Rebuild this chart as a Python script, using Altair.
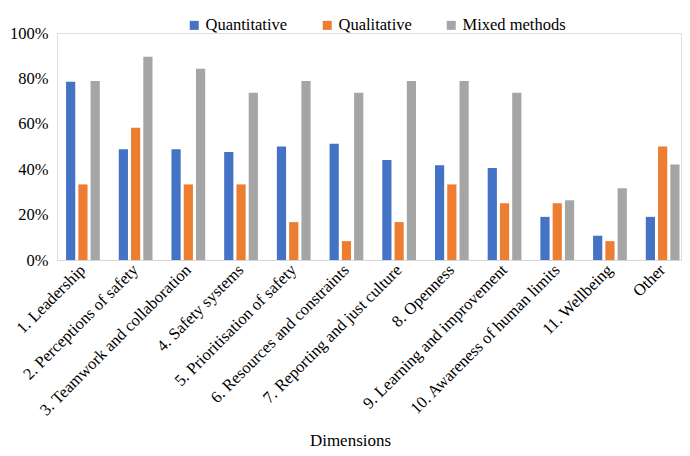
import altair as alt
import pandas as pd

categories = [
    "1. Leadership", "2. Perceptions of safety", "3. Teamwork and collaboration",
    "4. Safety systems", "5. Prioritisation of safety", "6. Resources and constraints",
    "7. Reporting and just culture", "8. Openness", "9. Learning and improvement",
    "10. Awareness of human limits", "11. Wellbeing", "Other",
]
series = ["Quantitative", "Qualitative", "Mixed methods"]
quantitative = [0.785, 0.488, 0.488, 0.476, 0.500, 0.512, 0.440, 0.417, 0.405, 0.190, 0.107, 0.190]
qualitative = [0.333, 0.583, 0.333, 0.333, 0.167, 0.083, 0.167, 0.333, 0.250, 0.250, 0.083, 0.500]
mixed = [0.789, 0.895, 0.842, 0.737, 0.789, 0.737, 0.789, 0.789, 0.737, 0.263, 0.316, 0.421]
colors = ["#4472C4", "#ED7D31", "#A5A5A5"]

rows = []
for s, vals in zip(series, [quantitative, qualitative, mixed]):
    for c, v in zip(categories, vals):
        rows.append({"Dimension": c, "Method": s, "Value": v})
df = pd.DataFrame(rows)

font = "Liberation Serif"

chart = alt.Chart(df).mark_bar().encode(
    x=alt.X("Dimension:N", sort=categories,
            scale=alt.Scale(paddingInner=0.36, paddingOuter=0.1, align=0.86),
            axis=alt.Axis(title="Dimensions", labelAngle=-45, labelAlign="right",
                          labelBaseline="middle", labelPadding=7, ticks=False,
                          domainColor="#D9D9D9", domainWidth=1,
                          labelFont=font, labelFontSize=16.5, labelColor="#000000",
                          labelLimit=400, titleFont=font, titleFontSize=17,
                          titleFontWeight="normal", titleColor="#000000",
                          titleX=293, titleY=185, titleBaseline="alphabetic")),
    xOffset=alt.XOffset("Method:N", sort=series,
                        scale=alt.Scale(paddingInner=0.25, paddingOuter=0)),
    y=alt.Y("Value:Q", scale=alt.Scale(domain=[0, 1]),
            axis=alt.Axis(title=None, format=".0%", values=[0, 0.2, 0.4, 0.6, 0.8, 1.0],
                          grid=False, domain=False, ticks=False, labelPadding=9,
                          labelFont=font, labelFontSize=16.5, labelColor="#000000")),
    color=alt.Color("Method:N", sort=series,
                    scale=alt.Scale(domain=series, range=colors),
                    legend=alt.Legend(title=None, orient="none", legendX=129, legendY=-16,
                                      direction="horizontal", symbolType="square",
                                      symbolSize=81, symbolStrokeWidth=0,
                                      labelFont=font, labelFontSize=16.5,
                                      labelColor="#000000", labelOffset=3,
                                      columnPadding=31)),
).properties(
    width=624, height=227,
    autosize=alt.AutoSizeParams(type="none"),
    padding={"left": 49, "top": 25, "right": 1, "bottom": 188},
).configure_view(stroke=None).configure(background="white")

chart.save("out.html", embed_options={"renderer": "svg", "actions": False})
